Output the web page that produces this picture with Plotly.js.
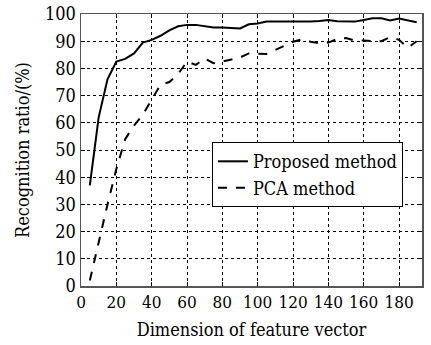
<!DOCTYPE html>
<html><head><meta charset="utf-8">
<script src="https://cdn.plot.ly/plotly-3.0.1.min.js"></script>
<style>body{margin:0;padding:0;background:#fff}#chart{width:431px;height:345px}</style>
</head><body><div id="chart"></div>
<script>
const dims = [5,10,15,20,25,30,35,40,45,50,55,60,65,70,75,80,85,90,95,100,105,110,115,120,125,130,135,140,145,150,155,160,165,170,175,180,185,190];
const proposed = [37,62,76,82.5,83.5,85.5,89.5,90.5,92,94,95.5,96,96,95.5,95,95,94.8,94.7,96.2,96.5,97.2,97.2,97.2,97.1,97.2,97.2,97.4,97.8,97.3,97.2,97.2,97.8,98.4,98.4,97.6,98.3,97.6,97];
const pca = [2,16.5,30,43,54,59,63,68.5,74,75,78,82.5,81.3,83.7,81.9,82.5,83.2,84,85.5,85.5,85.3,86.8,88.3,89.8,90.7,89.8,89.2,89.5,90.8,91.2,90.2,90.3,90,90,91.5,90.5,87.6,90];
const xTicks = [0,20,40,60,80,100,120,140,160,180];
const yTicks = [0,10,20,30,40,50,60,70,80,90,100];
const seriesNames = ["Proposed method","PCA method"];

const font = 'DejaVu Serif Condensed';
const data = [
  {x: dims, y: proposed, type:'scatter', mode:'lines', name: seriesNames[0], line:{color:'#000', width:2}},
  {x: dims, y: pca, type:'scatter', mode:'lines', name: seriesNames[1], line:{color:'#000', width:2, dash:'dash'}}
];
const axisCommon = {
  showgrid:true, gridcolor:'#000', griddash:'dot', gridwidth:1,
  showline:true, linecolor:'#555', linewidth:1.5, mirror:'ticks',
  ticks:'inside', ticklen:4, tickcolor:'#000',
  zeroline:false
};
const layout = {
  width:431, height:345,
  font:{family:font, size:18, color:'#000'},
  margin:{l:81, r:9, t:14, b:59},
  paper_bgcolor:'#fff', plot_bgcolor:'#fff',
  showlegend:true,
  legend:{x:0.384, y:0.529, xanchor:'left', yanchor:'top', bgcolor:'#fff', bordercolor:'#000', borderwidth:1,
          font:{family:font, size:18, color:'#000'}, tracegroupgap:0},
  xaxis: Object.assign({}, axisCommon, {range:[0,193], tickvals:xTicks, ticktext:xTicks.map(String), tickangle:0,
          tickfont:{family:font, size:17, color:'#000'},
          title:{text:'Dimension of feature vector', font:{family:font, size:18, color:'#000'}, standoff:12}}),
  yaxis: Object.assign({}, axisCommon, {range:[0,100], tickvals:yTicks, ticktext:yTicks.map(String),
          tickfont:{family:font, size:18, color:'#000'},
          title:{text:'Recognition ratio/(%)', font:{family:font, size:18, color:'#000'}, standoff:10}})
};
Plotly.newPlot('chart', data, layout, {staticPlot:true, displayModeBar:false});
</script></body></html>
